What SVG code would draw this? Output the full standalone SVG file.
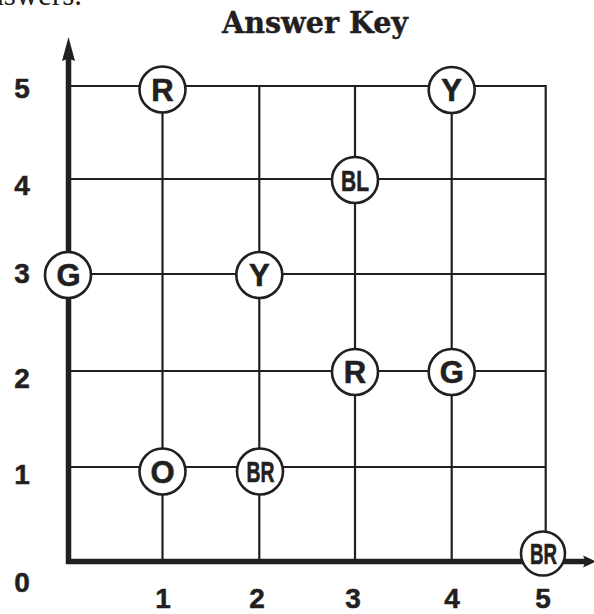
<svg xmlns="http://www.w3.org/2000/svg" width="594" height="614" viewBox="0 0 594 614">
<style>
.grid{stroke:#231f20;stroke-width:2.2;fill:none}
.axis{stroke:#231f20;stroke-width:5.5;fill:none}
.head{fill:#231f20}
.node circle{fill:#fff;stroke:#231f20;stroke-width:2.6}
.node text{font-family:"Liberation Sans",Arial,sans-serif;font-weight:bold;font-size:31px;fill:#231f20;stroke:#231f20;stroke-width:0.6;text-anchor:middle}
.node text.two{font-size:29px}
.lbl{font-family:"Liberation Sans",Arial,sans-serif;font-weight:bold;font-size:28px;fill:#231f20;stroke:#231f20;stroke-width:0.5;text-anchor:middle}
</style>
<rect width="594" height="614" fill="#fff"/>
<text x="82" y="5" font-family="Liberation Serif,Times New Roman,serif" font-size="31" fill="#231f20" text-anchor="end">answers.</text>
<text x="315" y="33" font-family="DejaVu Serif,serif" font-weight="bold" font-size="29" fill="#231f20" stroke="#231f20" stroke-width="0.4" text-anchor="middle" textLength="186" lengthAdjust="spacingAndGlyphs">Answer Key</text>
<g id="connectors">
<line class="grid" x1="68.5" y1="86" x2="545.7" y2="86"/>
<line class="grid" x1="68.5" y1="179" x2="545.7" y2="179"/>
<line class="grid" x1="68.5" y1="274" x2="545.7" y2="274"/>
<line class="grid" x1="68.5" y1="371" x2="545.7" y2="371"/>
<line class="grid" x1="68.5" y1="467" x2="545.7" y2="467"/>
<line class="grid" x1="162.5" y1="86" x2="162.5" y2="561.5"/>
<line class="grid" x1="259.3" y1="86" x2="259.3" y2="561.5"/>
<line class="grid" x1="355" y1="86" x2="355" y2="561.5"/>
<line class="grid" x1="451.7" y1="86" x2="451.7" y2="561.5"/>
<line class="grid" x1="545.7" y1="85" x2="545.7" y2="561.5"/>
<line class="axis" x1="68.5" y1="564" x2="68.5" y2="57"/>
<polygon class="head" points="68.5,37 75,61 68.5,58.5 62,61"/>
<line class="axis" x1="66" y1="561.5" x2="587" y2="561.5"/>
<polygon class="head" points="596,561.5 583,555.5 585.5,561.5 583,567.5"/>
</g>
<g id="n-R-1-5" class="node"><circle cx="162.5" cy="89.5" r="23"/><text x="162.5" y="100.5">R</text></g>
<g id="n-Y-4-5" class="node"><circle cx="451.7" cy="90" r="23"/><text x="451.7" y="101">Y</text></g>
<g id="n-BL-3-4" class="node"><circle cx="355" cy="180" r="23"/><text class="two" x="355" y="190.5" textLength="28" lengthAdjust="spacingAndGlyphs">BL</text></g>
<g id="n-G-0-3" class="node"><circle cx="68" cy="275" r="23"/><text x="68.5" y="286">G</text></g>
<g id="n-Y-2-3" class="node"><circle cx="259.3" cy="275" r="23"/><text x="259.3" y="286">Y</text></g>
<g id="n-R-3-2" class="node"><circle cx="355" cy="372" r="23"/><text x="355" y="383">R</text></g>
<g id="n-G-4-2" class="node"><circle cx="451.7" cy="372" r="23"/><text x="451.7" y="383">G</text></g>
<g id="n-O-1-1" class="node"><circle cx="162.5" cy="471.5" r="23"/><text x="162.5" y="482.5">O</text></g>
<g id="n-BR-2-1" class="node"><circle cx="260" cy="471.5" r="23"/><text class="two" x="260.5" y="482" textLength="28" lengthAdjust="spacingAndGlyphs">BR</text></g>
<g id="n-BR-5-0" class="node"><circle cx="543" cy="553.5" r="22"/><text class="two" x="543.5" y="564" textLength="27" lengthAdjust="spacingAndGlyphs">BR</text></g>
<g id="y-labels">
<text class="lbl" x="22" y="98">5</text>
<text class="lbl" x="22" y="195">4</text>
<text class="lbl" x="22" y="283">3</text>
<text class="lbl" x="22" y="388">2</text>
<text class="lbl" x="22" y="484">1</text>
<text class="lbl" x="22" y="592">0</text>
</g>
<g id="x-labels">
<text class="lbl" x="163" y="608">1</text>
<text class="lbl" x="257" y="608">2</text>
<text class="lbl" x="353" y="608">3</text>
<text class="lbl" x="452" y="608">4</text>
<text class="lbl" x="543" y="608">5</text>
</g>
</svg>
